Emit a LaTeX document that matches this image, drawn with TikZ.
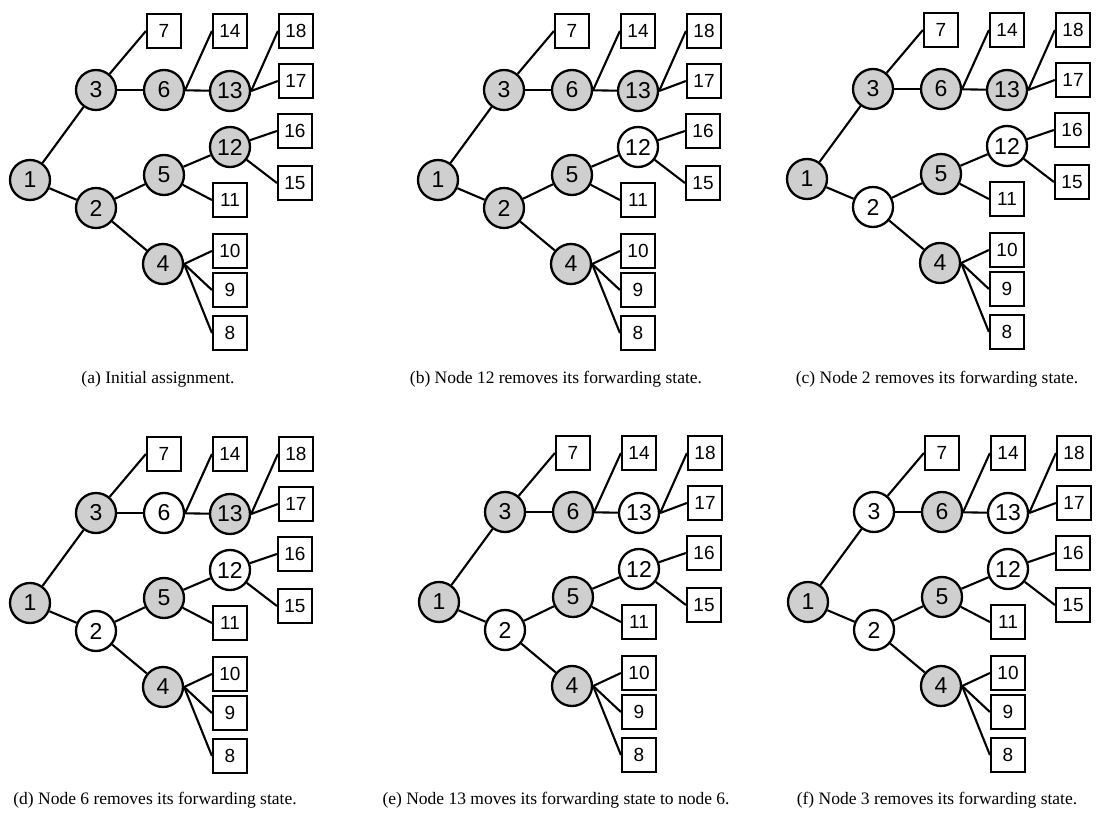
\documentclass[tikz,border=0pt]{standalone}
\usepackage{fontspec}
\setmainfont{Liberation Serif}
\newfontfamily\labelfont{Liberation Sans}
\definecolor{shadegray}{rgb}{0.81,0.81,0.81}
\tikzset{
  cnode/.style={circle, draw, line width=2.3pt, minimum size=40pt, inner sep=0pt,
    font=\labelfont\fontsize{23}{23}\selectfont},
  bnode/.style={rectangle, draw, line width=2.2pt, minimum width=34pt, minimum height=34pt,
    inner sep=0pt, fill=white, font=\labelfont\fontsize{19}{19}\selectfont},
  link/.style={line width=2.1pt},
  captext/.style={anchor=base, inner sep=0pt, font=\fontsize{17.5}{20}\selectfont},
  st1/.style={fill=white}, st2/.style={fill=white}, st3/.style={fill=white},
  st4/.style={fill=white}, st5/.style={fill=white}, st6/.style={fill=white},
  st12/.style={fill=white}, st13/.style={fill=white},
  holds/.style={st#1/.style={fill=shadegray}},
}
% One tree: #1 name prefix, #2 position of the root, #3 circles holding forwarding state
\newcommand\paneltree[3]{%
\begin{scope}[shift={#2}, holds/.list={#3}]
  \node[cnode,st1]  (#1n1)  at (0,0)      {1};
  \node[cnode,st3]  (#1n3)  at (66,-90)   {3};
  \node[cnode,st2]  (#1n2)  at (66,28)    {2};
  \node[cnode,st6]  (#1n6)  at (134,-90)  {6};
  \node[cnode,st13] (#1n13) at (200,-89)  {13};
  \node[cnode,st5]  (#1n5)  at (134,-5)   {5};
  \node[cnode,st12] (#1n12) at (200,-33)  {12};
  \node[cnode,st4]  (#1n4)  at (133,84)   {4};
  \node[bnode] (#1b7)  at (134,-149) {7};
  \node[bnode] (#1b14) at (200,-149) {14};
  \node[bnode] (#1b18) at (266,-149) {18};
  \node[bnode] (#1b17) at (266,-99)  {17};
  \node[bnode] (#1b16) at (265,-49)  {16};
  \node[bnode] (#1b15) at (265,3)    {15};
  \node[bnode] (#1b11) at (200,20)   {11};
  \node[bnode] (#1b10) at (200,71)   {10};
  \node[bnode] (#1b9)  at (200,110)  {9};
  \node[bnode] (#1b8)  at (200,153)  {8};
  \draw[link] (#1n1) -- (#1n3);
  \draw[link] (#1n1) -- (#1n2);
  \draw[link] (#1n3) -- (#1n6);
  \draw[link] (#1n6) -- (#1n13);
  \draw[link] (#1n2) -- (#1n5);
  \draw[link] (#1n2) -- (#1n4);
  \draw[link] (#1n5) -- (#1n12);
  \draw[link] (#1n3) -- (#1b7.west);
  \draw[link] (#1n6.east) -- (#1b14.west);
  \draw[link] (#1n13.east) -- (#1b18.west);
  \draw[link] (#1n13.east) -- (#1b17.west);
  \draw[link] (#1n12) -- (#1b16.west);
  \draw[link] (#1n12) -- (#1b15.west);
  \draw[link] (#1n5) -- (#1b11.west);
  \draw[link] (#1n4.east) -- (#1b10.west);
  \draw[link] (#1n4.east) -- (#1b9.west);
  \draw[link] (#1n4.east) -- (#1b8.west);
\end{scope}}

\begin{document}
\begin{tikzpicture}[x=1pt, y=-1pt]
  \useasboundingbox (0,0) rectangle (1101,826);
  \fill[white] (0,0) rectangle (1101,826);

  \paneltree{a}{(30,180)}{1,2,3,4,5,6,12,13}
  \paneltree{b}{(438,180)}{1,2,3,4,5,6,13}
  \paneltree{c}{(807,179)}{1,3,4,5,6,13}
  \paneltree{d}{(30,603)}{1,3,4,5,13}
  \paneltree{e}{(439,602)}{1,3,4,5,6}
  \paneltree{f}{(808,602)}{1,4,5,6}

  \node[captext] (capa) at (158,384) {(a) Initial assignment.};
  \node[captext] (capb) at (556,384) {(b) Node 12 removes its forwarding state.};
  \node[captext] (capc) at (937,384) {(c) Node 2 removes its forwarding state.};
  \node[captext] (capd) at (155,804) {(d) Node 6 removes its forwarding state.};
  \node[captext] (cape) at (556,804) {(e) Node 13 moves its forwarding state to node 6.};
  \node[captext] (capf) at (937,804) {(f) Node 3 removes its forwarding state.};
\end{tikzpicture}
\end{document}
